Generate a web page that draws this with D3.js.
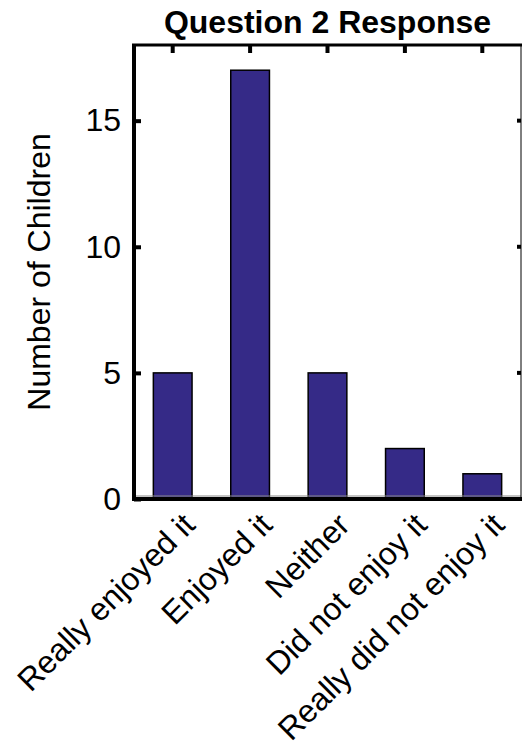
<!DOCTYPE html>
<html lang="en">
<head>
  <meta charset="UTF-8">
  <title>Question 2 Response</title>
  <script src="https://d3js.org/d3.v7.min.js"></script>
  <style>
    body { margin: 0; background: #fff; }
    svg { display: block; font-family: "Liberation Sans", Arial, sans-serif; }
  </style>
</head>
<body>
  <svg width="522" height="751"></svg>
  <script>
    const categories = ["Really enjoyed it", "Enjoyed it", "Neither", "Did not enjoy it", "Really did not enjoy it"];
    const counts = [5, 17, 5, 2, 1];
    const yTicks = [0, 5, 10, 15];

    const svg = d3.select("svg");
    const plotLeft = 134, plotRight = 521, plotTop = 45, plotBottom = 499;
    const font = "Liberation Sans, Arial, sans-serif";

    const x = d3.scaleBand().domain(categories).range([plotLeft, plotRight]).paddingInner(0.5).paddingOuter(0.25);
    const y = d3.scaleLinear().domain([0, 18]).range([plotBottom, plotTop]);

    // bars
    svg.append("g").selectAll("rect")
      .data(categories)
      .join("rect")
      .attr("x", d => x(d))
      .attr("width", x.bandwidth())
      .attr("y", (d, i) => y(counts[i]))
      .attr("height", (d, i) => y(0) - y(counts[i]))
      .attr("fill", "#352a87")
      .attr("stroke", "#000")
      .attr("stroke-width", 1.5);

    // thin baseline just above the axis
    svg.append("line").attr("x1", plotLeft).attr("x2", plotRight).attr("y1", plotBottom - 3).attr("y2", plotBottom - 3)
      .attr("stroke", "#888").attr("stroke-width", 1);

    // frame: thin right border, thick top
    svg.append("line").attr("x1", plotRight).attr("x2", plotRight).attr("y1", plotTop).attr("y2", plotBottom)
      .attr("stroke", "#000").attr("stroke-width", 1);
    svg.append("line").attr("x1", plotLeft - 2).attr("x2", plotRight + 1).attr("y1", plotTop).attr("y2", plotTop)
      .attr("stroke", "#000").attr("stroke-width", 3);

    // left axis
    const yAxis = svg.append("g")
      .attr("transform", `translate(${plotLeft},0)`)
      .call(d3.axisLeft(y).tickValues(yTicks).tickSize(-7).tickPadding(13));
    yAxis.select(".domain").attr("stroke-width", 4).attr("d", `M0,${plotTop}V${plotBottom + 2}`);
    yAxis.selectAll(".tick line").attr("stroke-width", 4);
    yAxis.selectAll(".tick text").attr("font-size", 32).attr("fill", "#000").attr("font-family", font);

    // right ticks
    svg.append("g").selectAll("line")
      .data(yTicks.slice(1))
      .join("line")
      .attr("x1", plotRight - 4).attr("x2", plotRight)
      .attr("y1", d => y(d)).attr("y2", d => y(d))
      .attr("stroke", "#000").attr("stroke-width", 4);

    // top ticks
    svg.append("g").selectAll("line")
      .data(categories)
      .join("line")
      .attr("x1", d => x(d) + x.bandwidth() / 2).attr("x2", d => x(d) + x.bandwidth() / 2)
      .attr("y1", plotTop).attr("y2", plotTop + 8)
      .attr("stroke", "#000").attr("stroke-width", 4);

    // bottom axis
    const xAxis = svg.append("g")
      .attr("transform", `translate(0,${plotBottom})`)
      .call(d3.axisBottom(x).tickSize(0).tickPadding(0));
    xAxis.select(".domain").attr("stroke-width", 4).attr("d", `M${plotLeft - 2},0H${plotRight + 1}`);
    xAxis.selectAll(".tick text")
      .attr("font-size", 32)
      .attr("fill", "#000")
      .attr("font-family", font)
      .attr("text-anchor", "end")
      .attr("y", 0)
      .attr("dy", null)
      .attr("transform", "translate(24,28) rotate(-45)");

    // y label
    svg.append("text")
      .attr("transform", `translate(50,${(plotTop + plotBottom) / 2}) rotate(-90)`)
      .attr("text-anchor", "middle")
      .attr("font-size", 32)
      .text("Number of Children");

    // title
    svg.append("text")
      .attr("x", (plotLeft + plotRight) / 2)
      .attr("y", 33)
      .attr("text-anchor", "middle")
      .attr("font-size", 32)
      .attr("font-weight", "bold")
      .text("Question 2 Response");
  </script>
</body>
</html>
